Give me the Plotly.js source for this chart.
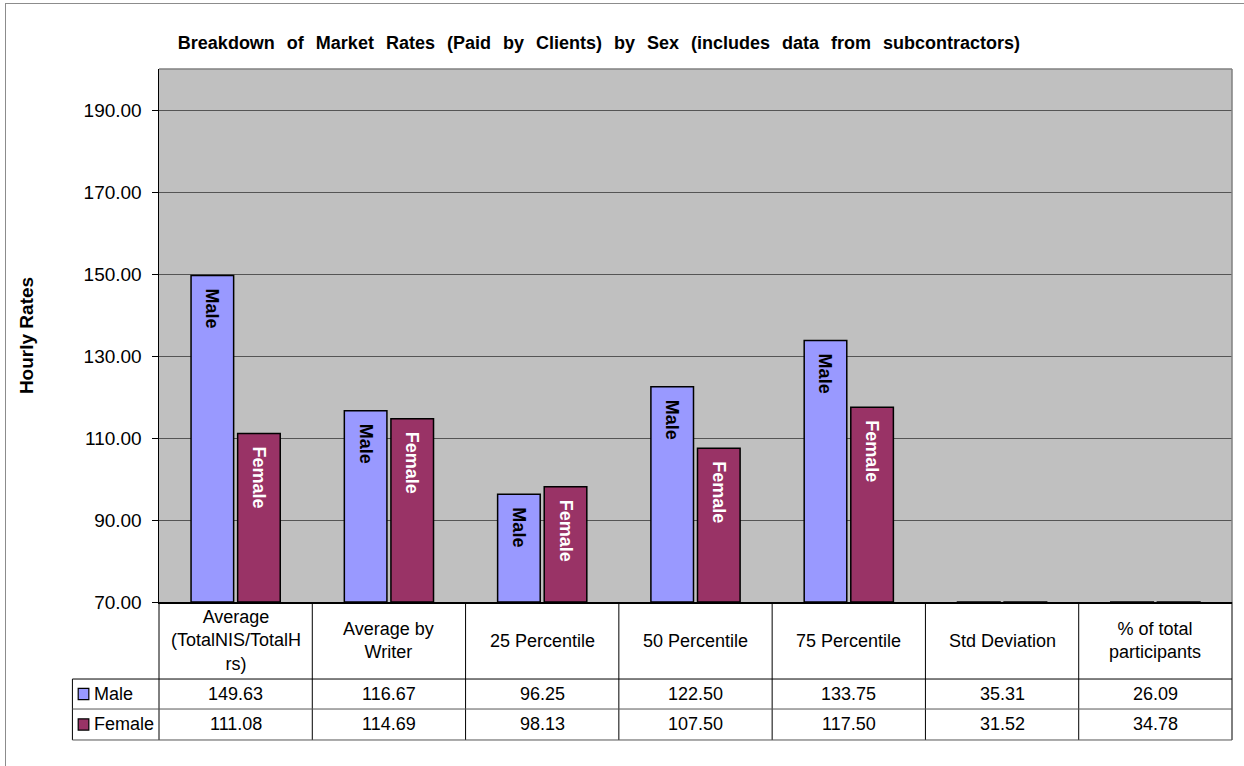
<!DOCTYPE html>
<html>
<head>
<meta charset="utf-8">
<script src="https://cdn.plot.ly/plotly-3.0.1.min.js"></script>
<style>
  html, body { margin: 0; padding: 0; background: #fff; overflow: hidden; }
  #chart { width: 1244px; height: 766px; position: absolute; left: 0; top: 0; }
  #frame { position: absolute; left: 5px; top: 3px; width: 1250px; height: 800px;
           border: 1px solid #8c8c8c; pointer-events: none; }
  #chart .gtitle { word-spacing: 7px; }
</style>
</head>
<body>
<div id="chart"></div>
<div id="frame"></div>
<script>
// ---- data ----
const categories = [
  "Average<br>(TotalNIS/TotalH<br>rs)",
  "Average by<br>Writer",
  "25 Percentile",
  "50 Percentile",
  "75 Percentile",
  "Std Deviation",
  "% of total<br>participants"
];
const categoryKeys = ["Average (TotalNIS/TotalHrs)", "Average by Writer", "25 Percentile",
  "50 Percentile", "75 Percentile", "Std Deviation", "% of total participants"];
const maleValues   = [149.63, 116.67, 96.25, 122.50, 133.75, 35.31, 26.09];
const femaleValues = [111.08, 114.69, 98.13, 107.50, 117.50, 31.52, 34.78];
const seriesNames  = ["Male", "Female"];
const yTickValues  = [70, 90, 110, 130, 150, 170, 190];

// ---- style ----
const FONT = "Liberation Sans, Arial, Helvetica, sans-serif";
const MALE_COLOR = "#9999FF";
const FEMALE_COLOR = "#993366";
const AXIS_MIN = 70, AXIS_MAX = 200;
const NBSP = "\u00A0\u00A0";

function barTrace(name, values, color, textColor) {
  return {
    type: "bar",
    name: name,
    x: categoryKeys,
    base: AXIS_MIN,
    y: values.map(v => v - AXIS_MIN),
    customdata: values,
    hovertemplate: "%{x}<br>" + name + ": %{customdata:.2f}<extra></extra>",
    marker: { color: color, line: { color: "#000", width: 1.5 } },
    text: values.map(v => v > AXIS_MIN ? NBSP + name : ""),
    textposition: "inside",
    insidetextanchor: "end",
    textangle: 90,
    constraintext: "none",
    insidetextfont: { family: FONT, size: 18, color: textColor, weight: "bold" },
    cliponaxis: true
  };
}

const traces = [
  barTrace(seriesNames[0], maleValues, MALE_COLOR, "#000"),
  barTrace(seriesNames[1], femaleValues, FEMALE_COLOR, "#fff")
];

// table geometry in paper units (plot area: 0..1)
const nCat = categories.length;
const yLabelRow = -0.073;
const yMaleRow = -0.1726;
const yFemaleRow = -0.2298;
const yLine1 = -0.1445, yLine2 = -0.2008, yLine3 = -0.2589;
const xLegendLeft = -0.0807;

const shapes = [];
// plot area top/right border
shapes.push({ type: "line", xref: "paper", yref: "paper", x0: 0, x1: 1, y0: 1, y1: 1, line: { color: "#808080", width: 1.5 } });
shapes.push({ type: "line", xref: "paper", yref: "paper", x0: 1, x1: 1, y0: 0, y1: 1, line: { color: "#808080", width: 1.5 } });
// table vertical lines
for (let i = 0; i <= nCat; i++) {
  shapes.push({ type: "line", xref: "paper", yref: "paper", x0: i / nCat, x1: i / nCat, y0: 0, y1: yLine3,
    line: { color: "#000", width: 1 } });
}
shapes.push({ type: "line", xref: "paper", yref: "paper", x0: xLegendLeft, x1: xLegendLeft, y0: yLine1, y1: yLine3, line: { color: "#000", width: 1 } });
// table horizontal lines
[yLine1, yLine2, yLine3].forEach((yy, k) => {
  shapes.push({ type: "line", xref: "paper", yref: "paper", x0: xLegendLeft, x1: 1, y0: yy, y1: yy,
    line: { color: k === 0 ? "#000" : "#555", width: 1 } });
});
// legend keys
const keyX0 = -0.0753, keyX1 = -0.0654;
const keyH = 0.0105;
[[yMaleRow, MALE_COLOR], [yFemaleRow, FEMALE_COLOR]].forEach(([yy, c]) => {
  shapes.push({ type: "rect", xref: "paper", yref: "paper", x0: keyX0, x1: keyX1, y0: yy - keyH, y1: yy + keyH,
    fillcolor: c, line: { color: "#000", width: 1.2 } });
});

const annotations = [];
const tableFont = { family: FONT, size: 18, color: "#000" };
categoryKeys.forEach((key, i) => {
  annotations.push({ xref: "x", yref: "paper", x: key, y: yLabelRow, text: categories[i],
    showarrow: false, font: tableFont, xanchor: "center", yanchor: "middle", align: "center" });
  annotations.push({ xref: "x", yref: "paper", x: key, y: yMaleRow, text: maleValues[i].toFixed(2),
    showarrow: false, font: tableFont, xanchor: "center", yanchor: "middle" });
  annotations.push({ xref: "x", yref: "paper", x: key, y: yFemaleRow, text: femaleValues[i].toFixed(2),
    showarrow: false, font: tableFont, xanchor: "center", yanchor: "middle" });
});
annotations.push({ xref: "paper", yref: "paper", x: -0.0622, y: yMaleRow, text: seriesNames[0],
  showarrow: false, font: tableFont, xanchor: "left", yanchor: "middle" });
annotations.push({ xref: "paper", yref: "paper", x: -0.0622, y: yFemaleRow, text: seriesNames[1],
  showarrow: false, font: tableFont, xanchor: "left", yanchor: "middle" });

const layout = {
  width: 1244, height: 766,
  margin: { l: 159, r: 12, t: 69, b: 164, pad: 0 },
  paper_bgcolor: "#fff",
  plot_bgcolor: "#C0C0C0",
  font: { family: FONT, size: 18, color: "#000" },
  showlegend: false,
  barmode: "group",
  bargap: 0.392,
  bargroupgap: 0.086,
  title: {
    text: "<b>Breakdown of Market Rates (Paid by Clients) by Sex (includes data from subcontractors)</b>",
    font: { family: FONT, size: 18, color: "#000" },
    xref: "paper", x: 0.41, xanchor: "center",
    yref: "container", y: 0.944, yanchor: "middle"
  },
  xaxis: {
    type: "category",
    range: [-0.5, nCat - 0.5],
    showticklabels: false,
    ticks: "",
    showgrid: false,
    zeroline: false,
    showline: true, linecolor: "#000", linewidth: 1.5,
    fixedrange: true
  },
  yaxis: {
    range: [AXIS_MIN, AXIS_MAX],
    tickmode: "array",
    tickvals: yTickValues,
    ticktext: yTickValues.map(v => v.toFixed(2)),
    ticks: "outside", ticklen: 6, tickcolor: "#000", tickwidth: 1,
    ticklabelstandoff: 6,
    tickfont: { family: FONT, size: 19, color: "#000" },
    showgrid: true, gridcolor: "#555", gridwidth: 1,
    zeroline: false,
    showline: true, linecolor: "#000", linewidth: 1.5,
    title: { text: "<b>Hourly Rates</b>", font: { family: FONT, size: 19, color: "#000" }, standoff: 45 },
    fixedrange: true
  },
  shapes: shapes,
  annotations: annotations
};

Plotly.newPlot("chart", traces, layout, { displayModeBar: false, staticPlot: true });
</script>
</body>
</html>
